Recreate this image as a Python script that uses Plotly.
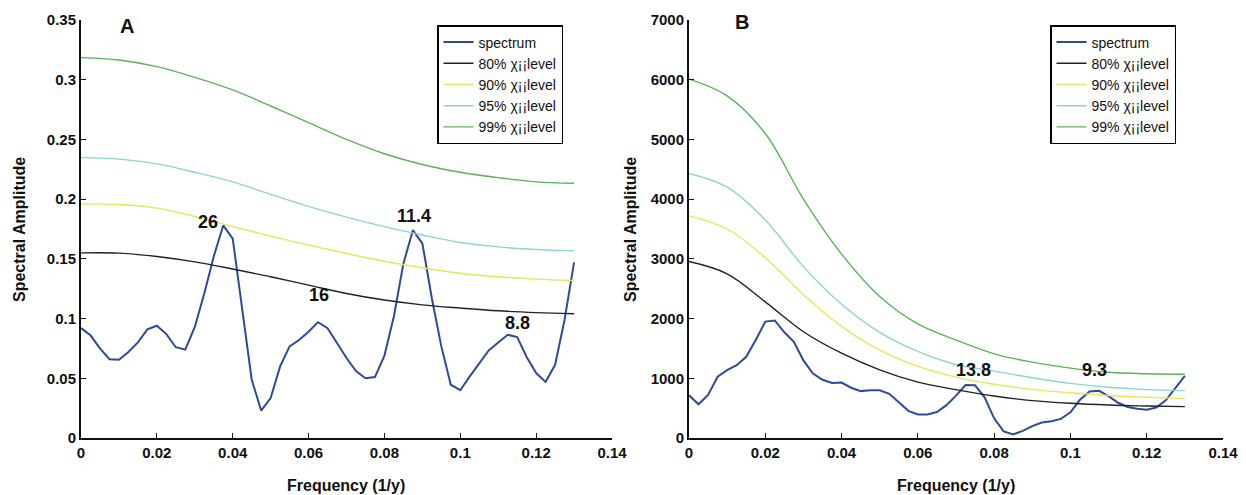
import plotly.graph_objects as go

W, H = 1246, 495

# ---------------- data ----------------
freq_spec = [i * 0.0025 for i in range(53)]
spec_A = [0.092, 0.086, 0.075, 0.066, 0.0655, 0.072, 0.080, 0.091, 0.094, 0.087,
          0.076, 0.074, 0.093, 0.121, 0.152, 0.178, 0.167, 0.108, 0.049, 0.023,
          0.0335, 0.060, 0.0767, 0.082, 0.089, 0.097, 0.092, 0.0795, 0.067, 0.056,
          0.050, 0.051, 0.069, 0.102, 0.146, 0.174, 0.163, 0.117, 0.0767, 0.0446,
          0.040, 0.0516, 0.0627, 0.0733, 0.080, 0.0864, 0.0845, 0.0678, 0.0544, 0.047,
          0.0613, 0.099, 0.147]
spec_B = [715, 565, 720, 1025, 1135, 1220, 1360, 1640, 1950, 1968,
          1770, 1612, 1300, 1080, 975, 920, 928, 842, 785, 800,
          800, 740, 600, 455, 395, 395, 435, 550, 710, 888,
          882, 680, 330, 110, 60, 120, 200, 260, 280, 320,
          430, 640, 780, 790, 700, 590, 520, 490, 475, 510,
          630, 830, 1040]

freq_lvl = [i * 0.01 for i in range(14)]
A_80 = [0.155, 0.1548, 0.152, 0.1475, 0.1415, 0.135, 0.128, 0.121, 0.1155, 0.1115, 0.1088, 0.1065, 0.105, 0.104]
A_90 = [0.196, 0.1955, 0.1925, 0.1855, 0.177, 0.169, 0.1615, 0.1545, 0.148, 0.1425, 0.138, 0.135, 0.133, 0.1318]
A_95 = [0.2348, 0.2335, 0.2295, 0.2225, 0.2145, 0.204, 0.194, 0.185, 0.177, 0.17, 0.1637, 0.16, 0.1578, 0.1567]
A_99 = [0.3185, 0.3165, 0.311, 0.302, 0.2915, 0.278, 0.264, 0.25, 0.238, 0.229, 0.2225, 0.218, 0.2145, 0.2133]

B_80 = [2955, 2750, 2280, 1780, 1420, 1140, 935, 810, 704, 626, 581, 552, 536, 525]
B_90 = [3720, 3500, 3020, 2400, 1870, 1470, 1200, 1020, 900, 815, 758, 712, 682, 659]
B_95 = [4430, 4200, 3650, 2870, 2240, 1770, 1450, 1230, 1120, 1010, 915, 850, 810, 793]
B_99 = [6010, 5730, 5100, 4000, 3080, 2370, 1910, 1640, 1410, 1270, 1170, 1100, 1075, 1068]

peak_A_lbl = ["26", "16", "11.4", "8.8"]
peak_A_x = [0.0335, 0.0627, 0.0878, 0.115]
peak_A_y = [0.181, 0.1197, 0.186, 0.0963]
peak_B_lbl = ["13.8", "9.3"]
peak_B_x = [0.0745, 0.1064]
peak_B_y = [1139, 1139]

names = ["spectrum", "80% χ¡¡level", "90% χ¡¡level", "95% χ¡¡level", "99% χ¡¡level"]
colors = ["#2f4b98", "#222222", "#e6e65a", "#8fd3d3", "#5cb35c"]

x_ticks = [0, 0.02, 0.04, 0.06, 0.08, 0.1, 0.12, 0.14]
x_tick_txt = ["0", "0.02", "0.04", "0.06", "0.08", "0.1", "0.12", "0.14"]
yA_ticks = [0, 0.05, 0.1, 0.15, 0.2, 0.25, 0.3, 0.35]
yA_txt = ["0", "0.05", "0.1", "0.15", "0.2", "0.25", "0.3", "0.35"]
yB_ticks = [0, 1000, 2000, 3000, 4000, 5000, 6000, 7000]
yB_txt = [str(v) for v in yB_ticks]

# ---------------- figure ----------------
FONT = "Liberation Sans, Arial, sans-serif"
fig = go.Figure()

panels = [
    ("x", "y", "legend", spec_A, [A_80, A_90, A_95, A_99]),
    ("x2", "y2", "legend2", spec_B, [B_80, B_90, B_95, B_99]),
]
for xa, ya, lg, spec, lvls in panels:
    fig.add_trace(go.Scatter(x=freq_spec, y=spec, mode="lines", name=names[0],
                             line=dict(color=colors[0], width=2), xaxis=xa, yaxis=ya, legend=lg))
    for k, lv in enumerate(lvls):
        fig.add_trace(go.Scatter(x=freq_lvl, y=lv, mode="lines", name=names[k + 1],
                                 line=dict(color=colors[k + 1], width=1.4, shape="spline"),
                                 xaxis=xa, yaxis=ya, legend=lg))

def px_x(p):
    return p / W

def px_y(p):
    return 1 - p / H

ax_common = dict(showgrid=False, zeroline=False, showline=True, linecolor="#111", linewidth=2,
                 ticks="inside", ticklen=5, tickcolor="#111", tickwidth=1.2,
                 tickfont=dict(family=FONT, size=15, color="#111", weight="bold"), automargin=False)

fig.update_layout(
    width=W, height=H, margin=dict(l=0, r=0, t=0, b=0),
    paper_bgcolor="white", plot_bgcolor="white",
    xaxis=dict(domain=[px_x(81), px_x(612)], range=[0, 0.14], tickvals=x_ticks, ticktext=x_tick_txt,
               anchor="y", **ax_common),
    yaxis=dict(domain=[px_y(438), px_y(20)], range=[0, 0.35], tickvals=yA_ticks, ticktext=yA_txt,
               anchor="x", **ax_common),
    xaxis2=dict(domain=[px_x(689), px_x(1223)], range=[0, 0.14], tickvals=x_ticks, ticktext=x_tick_txt,
                anchor="y2", **ax_common),
    yaxis2=dict(domain=[px_y(438), px_y(20)], range=[0, 7000], tickvals=yB_ticks, ticktext=yB_txt,
                anchor="x2", **ax_common),
    legend=dict(x=px_x(437), y=px_y(25), xanchor="left", yanchor="top",
                bgcolor="white", bordercolor="black", borderwidth=1.5,
                font=dict(family=FONT, size=14, color="#111"), tracegroupgap=0),
    legend2=dict(x=px_x(1050), y=px_y(25), xanchor="left", yanchor="top",
                 bgcolor="white", bordercolor="black", borderwidth=1.5,
                 font=dict(family=FONT, size=14, color="#111"), tracegroupgap=0),
    showlegend=True,
)

ann_font = dict(family=FONT, size=18, color="#111", weight="bold")
for t, x, y in zip(peak_A_lbl, peak_A_x, peak_A_y):
    fig.add_annotation(x=x, y=y, xref="x", yref="y", text=t, showarrow=False,
                       font=ann_font, xanchor="center", yanchor="middle")
for t, x, y in zip(peak_B_lbl, peak_B_x, peak_B_y):
    fig.add_annotation(x=x, y=y, xref="x2", yref="y2", text=t, showarrow=False,
                       font=ann_font, xanchor="center", yanchor="middle")

# panel letters
letter_font = dict(family=FONT, size=20, color="#111", weight="bold")
fig.add_annotation(x=px_x(127), y=px_y(26), xref="paper", yref="paper", text="A",
                   showarrow=False, font=letter_font, xanchor="center", yanchor="middle")
fig.add_annotation(x=px_x(742), y=px_y(22), xref="paper", yref="paper", text="B",
                   showarrow=False, font=letter_font, xanchor="center", yanchor="middle")

# axis titles
tfont = dict(family=FONT, size=16, color="#111", weight="bold")
for cx in (346, 956):
    fig.add_annotation(x=px_x(cx), y=px_y(485), xref="paper", yref="paper",
                       text="Frequency (1/y)", showarrow=False, font=tfont,
                       xanchor="center", yanchor="middle")
for cx in (19, 630):
    fig.add_annotation(x=px_x(cx), y=px_y(230), xref="paper", yref="paper",
                       text="Spectral Amplitude", showarrow=False, textangle=-90, font=tfont,
                       xanchor="center", yanchor="middle")

fig.write_html("out.html")
